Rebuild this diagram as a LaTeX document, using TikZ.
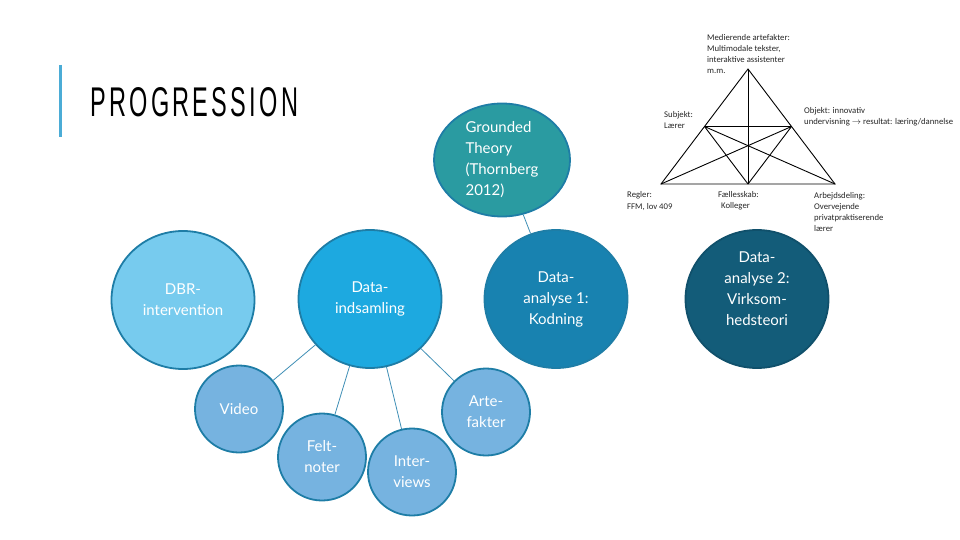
\documentclass[tikz,border=0pt]{standalone}
\usepackage{fontspec}
\usepackage{graphicx}
\usetikzlibrary{shapes.geometric}
\setmainfont{Lato}
\newfontfamily\calibfont{Carlito}
\newfontfamily\titlefont[LetterSpace=14]{Liberation Sans}
\definecolor{cDBR}{HTML}{77CBEE}
\definecolor{cInd}{HTML}{1DA9E0}
\definecolor{cAn1}{HTML}{1882B0}
\definecolor{cGro}{HTML}{2A9BA1}
\definecolor{cAn2}{HTML}{135C79}
\definecolor{cSmall}{HTML}{76B3E0}
\definecolor{cBord}{HTML}{1E7DA6}
\definecolor{cBord2}{HTML}{10506B}
\definecolor{cConn}{HTML}{3F8FB6}
\definecolor{cBar}{HTML}{4BACD6}
\begin{document}
\begin{tikzpicture}[x=1pt,y=-1pt,
  bub/.style={ellipse, draw=cBord, line width=1.8pt, text=white, align=center, inner sep=0pt,
    font=\fontsize{15}{21}\selectfont},
  big/.style={bub, minimum width=143pt, minimum height=138pt},
  small/.style={bub, fill=cSmall, minimum width=88pt, minimum height=87pt},
  conn/.style={draw=cConn, line width=0.8pt},
  tri/.style={line width=0.9pt, black},
  lab/.style={font=\calibfont\fontsize{8.7}{11.2}\selectfont, text=black!85, align=left, inner sep=0pt, anchor=west},
  intext/.style={text=white, align=center, inner sep=0pt, font=\fontsize{15}{21}\selectfont}
]
\useasboundingbox (0,0) rectangle (960,540);
\fill[white] (0,0) rectangle (960,540);

% title
\draw[line width=3pt, cBar] (60,65) -- (60,137);
\node[anchor=west, inner sep=0pt] (title) at (90,102.5) {\resizebox{208pt}{29pt}{\titlefont PROGRESSION}};

% big circles
\node[big, fill=cDBR] (dbr) at (183,300) {DBR-\\intervention};
\node[big, fill=cInd] (ind) at (370,299) {Data-\\indsamling};
\node[big, fill=cAn1] (an1) at (556,299) {Data-\\analyse 1:\\Kodning};
\node[bub, fill=cGro, minimum width=136pt, minimum height=113pt, align=left] (gro) at (502,160) {Grounded\\Theory\\(Thornberg\\2012)};
\node[big, fill=cAn2, draw=cBord2] (an2) at (757,299) {};
\node[intext] (an2t) at (757,289) {Data-\\analyse 2:\\Virksom-\\hedsteori};

% small circles
\node[small] (video) at (239,409) {Video};
\node[small] (felt) at (322,457) {Felt-\\noter};
\node[small] (inter) at (412,472) {Inter-\\views};
\node[small] (arte) at (486,412) {Arte-\\fakter};

% connectors
\draw[conn] (ind) -- (video);
\draw[conn] (ind) -- (felt);
\draw[conn] (ind) -- (inter);
\draw[conn] (ind) -- (arte);
\draw[conn] (gro) -- (an1);

% activity triangle
\coordinate (T) at (748,69);
\coordinate (BL) at (661,184);
\coordinate (BR) at (835,184);
\coordinate (BM) at (748,184);
\coordinate (LM) at (704.5,126.5);
\coordinate (RM) at (791.5,126.5);
\draw[tri] (T) -- (BL) -- (BR) -- cycle;
\draw[tri] (T) -- (BM);
\draw[tri] (LM) -- (RM);
\draw[tri] (LM) -- (BM);
\draw[tri] (RM) -- (BM);
\draw[tri] (LM) -- (BR);
\draw[tri] (RM) -- (BL);

\node[lab] (med) at (707,54) {Medierende artefakter:\\Multimodale tekster,\\interaktive assistenter\\m.m.};
\node[lab] (subj) at (664,120) {Subjekt:\\Lærer};
\node[lab] (obj) at (804,117) {Objekt: innovativ\\undervisning $\rightarrow$ resultat: læring/dannelse};
\node[lab] (regl) at (627,201) {Regler:\\FFM, lov 409};
\node[lab] (fael) at (718,201) {Fællesskab:\\\hspace*{3pt}Kolleger};
\node[lab] (arb) at (814,212) {Arbejdsdeling:\\Overvejende\\privatpraktiserende\\lærer};
\end{tikzpicture}
\end{document}
